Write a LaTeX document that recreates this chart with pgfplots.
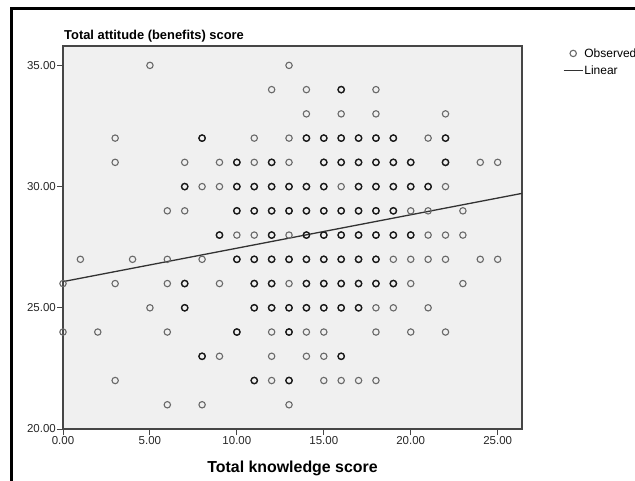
\documentclass[border=0pt]{standalone}
\usepackage{fontspec}
\setmainfont{Liberation Sans}
\usepackage{pgfplots}
\pgfplotsset{compat=1.18}
\definecolor{bgc}{RGB}{240,240,240}
\definecolor{axc}{RGB}{70,70,70}
\definecolor{ptc}{RGB}{105,105,105}
\definecolor{ptd}{RGB}{25,25,25}
\definecolor{lnc}{RGB}{50,50,50}
\pgfplotsset{
  markleg/.style={legend image code/.code={\draw[##1] plot coordinates {(9.5bp,0bp)};}},
  lineleg/.style={legend image code/.code={\draw[##1] (0bp,0bp) -- (19bp,0bp);}},
}
\begin{document}
\begin{tikzpicture}
\begin{axis}[
  name=ax,
  scale only axis, width=459bp, height=383bp,
  xmin=0, xmax=26.4, ymin=20, ymax=35.8,
  axis background/.style={fill=bgc},
  axis line style={draw=axc, line width=1.1bp},
  xtick={0,5,10,15,20,25}, ytick={20,25,30,35},
  tick align=outside, tick pos=left,
  major tick length=6bp,
  tick style={draw=axc, line width=1bp},
  /pgf/number format/assume math mode=true,
  xticklabel style={/pgf/number format/fixed, /pgf/number format/fixed zerofill, /pgf/number format/precision=2, font=\fontsize{11.5bp}{13bp}\selectfont, text=black!85, inner sep=1bp},
  yticklabel style={/pgf/number format/fixed, /pgf/number format/fixed zerofill, /pgf/number format/precision=2, font=\fontsize{11.5bp}{13bp}\selectfont, text=black!85, inner sep=1bp},
  xlabel={Total knowledge score},
  xlabel style={at={(0.5,0)}, anchor=base, yshift=-43.5bp, font=\bfseries\fontsize{15.9bp}{18bp}\selectfont},
  legend style={draw=none, fill=none, at={(1.089,0.997)}, anchor=north west, inner sep=0pt, row sep=5bp, font=\fontsize{12bp}{13bp}\selectfont, nodes={inner sep=1bp}},
  legend cell align=left,
]
\addplot[only marks, mark=o, mark size=3.2bp, draw=ptc, line width=1.1bp, markleg]
table[row sep=\\] {
x y\\
5 35\\ 13 35\\
12 34\\ 14 34\\ 16 34\\ 18 34\\
14 33\\ 16 33\\ 18 33\\ 22 33\\
3 32\\ 8 32\\ 11 32\\ 13 32\\ 14 32\\ 15 32\\ 16 32\\ 17 32\\ 18 32\\ 19 32\\ 21 32\\ 22 32\\
3 31\\ 7 31\\ 9 31\\ 10 31\\ 11 31\\ 12 31\\ 13 31\\ 15 31\\ 16 31\\ 17 31\\ 18 31\\ 19 31\\ 20 31\\ 22 31\\ 24 31\\ 25 31\\
7 30\\ 8 30\\ 9 30\\ 10 30\\ 11 30\\ 12 30\\ 13 30\\ 14 30\\ 15 30\\ 16 30\\ 17 30\\ 18 30\\ 19 30\\ 20 30\\ 21 30\\ 22 30\\
6 29\\ 7 29\\ 10 29\\ 11 29\\ 12 29\\ 13 29\\ 14 29\\ 15 29\\ 16 29\\ 17 29\\ 18 29\\ 19 29\\ 20 29\\ 21 29\\ 23 29\\
9 28\\ 10 28\\ 11 28\\ 12 28\\ 13 28\\ 14 28\\ 15 28\\ 16 28\\ 17 28\\ 18 28\\ 19 28\\ 20 28\\ 21 28\\ 22 28\\ 23 28\\
1 27\\ 4 27\\ 6 27\\ 8 27\\ 10 27\\ 11 27\\ 12 27\\ 13 27\\ 14 27\\ 15 27\\ 16 27\\ 17 27\\ 18 27\\ 19 27\\ 20 27\\ 21 27\\ 22 27\\ 24 27\\ 25 27\\
0 26\\ 3 26\\ 6 26\\ 7 26\\ 9 26\\ 11 26\\ 12 26\\ 13 26\\ 14 26\\ 15 26\\ 16 26\\ 17 26\\ 18 26\\ 19 26\\ 20 26\\ 23 26\\
5 25\\ 7 25\\ 11 25\\ 12 25\\ 13 25\\ 14 25\\ 15 25\\ 16 25\\ 17 25\\ 18 25\\ 19 25\\ 21 25\\
0 24\\ 2 24\\ 6 24\\ 10 24\\ 12 24\\ 13 24\\ 14 24\\ 15 24\\ 18 24\\ 20 24\\ 22 24\\
8 23\\ 9 23\\ 12 23\\ 14 23\\ 15 23\\ 16 23\\
3 22\\ 11 22\\ 12 22\\ 13 22\\ 15 22\\ 16 22\\ 17 22\\ 18 22\\
6 21\\ 8 21\\ 13 21\\
};
\addlegendentry{Observed}
\addplot[only marks, mark=o, mark size=3.2bp, draw=ptd, line width=1.3bp, forget plot]
table[row sep=\\] {
x y\\
16 34\\
8 32\\ 14 32\\ 15 32\\ 16 32\\ 17 32\\ 18 32\\ 19 32\\ 22 32\\
10 31\\ 12 31\\ 15 31\\ 16 31\\ 17 31\\ 18 31\\ 19 31\\ 20 31\\ 22 31\\
7 30\\ 10 30\\ 11 30\\ 12 30\\ 13 30\\ 14 30\\ 15 30\\ 17 30\\ 18 30\\ 19 30\\ 20 30\\ 21 30\\
10 29\\ 11 29\\ 12 29\\ 13 29\\ 14 29\\ 15 29\\ 16 29\\ 17 29\\ 18 29\\ 19 29\\
9 28\\ 12 28\\ 14 28\\ 15 28\\ 16 28\\ 17 28\\ 18 28\\ 19 28\\ 20 28\\
10 27\\ 11 27\\ 12 27\\ 13 27\\ 14 27\\ 15 27\\ 16 27\\ 17 27\\ 18 27\\
7 26\\ 11 26\\ 12 26\\ 14 26\\ 15 26\\ 16 26\\ 17 26\\ 18 26\\ 19 26\\
7 25\\ 11 25\\ 12 25\\ 13 25\\ 14 25\\ 15 25\\ 16 25\\ 17 25\\
10 24\\ 13 24\\
8 23\\ 16 23\\
11 22\\ 13 22\\
};
\addplot[draw=lnc, line width=1.3bp, lineleg]
coordinates {(0,26.08) (26.4,29.72)};
\addlegendentry{Linear}
\end{axis}
\node[anchor=base west, inner sep=0pt, font=\bfseries\fontsize{12.9bp}{15bp}\selectfont] at ([shift={(1bp,6bp)}]ax.north west) {Total attitude (benefits) score};
\pgfresetboundingbox
\path[use as bounding box] ([shift={(-63bp,-52bp)}]ax.south west) rectangle ([shift={(572bp,429bp)}]ax.south west);
\draw[line width=2.6bp, black] ([shift={(-51.5bp,-60bp)}]ax.south west) -- ([shift={(-51.5bp,420.5bp)}]ax.south west) -- ([shift={(590bp,420.5bp)}]ax.south west);
\end{tikzpicture}
\end{document}
